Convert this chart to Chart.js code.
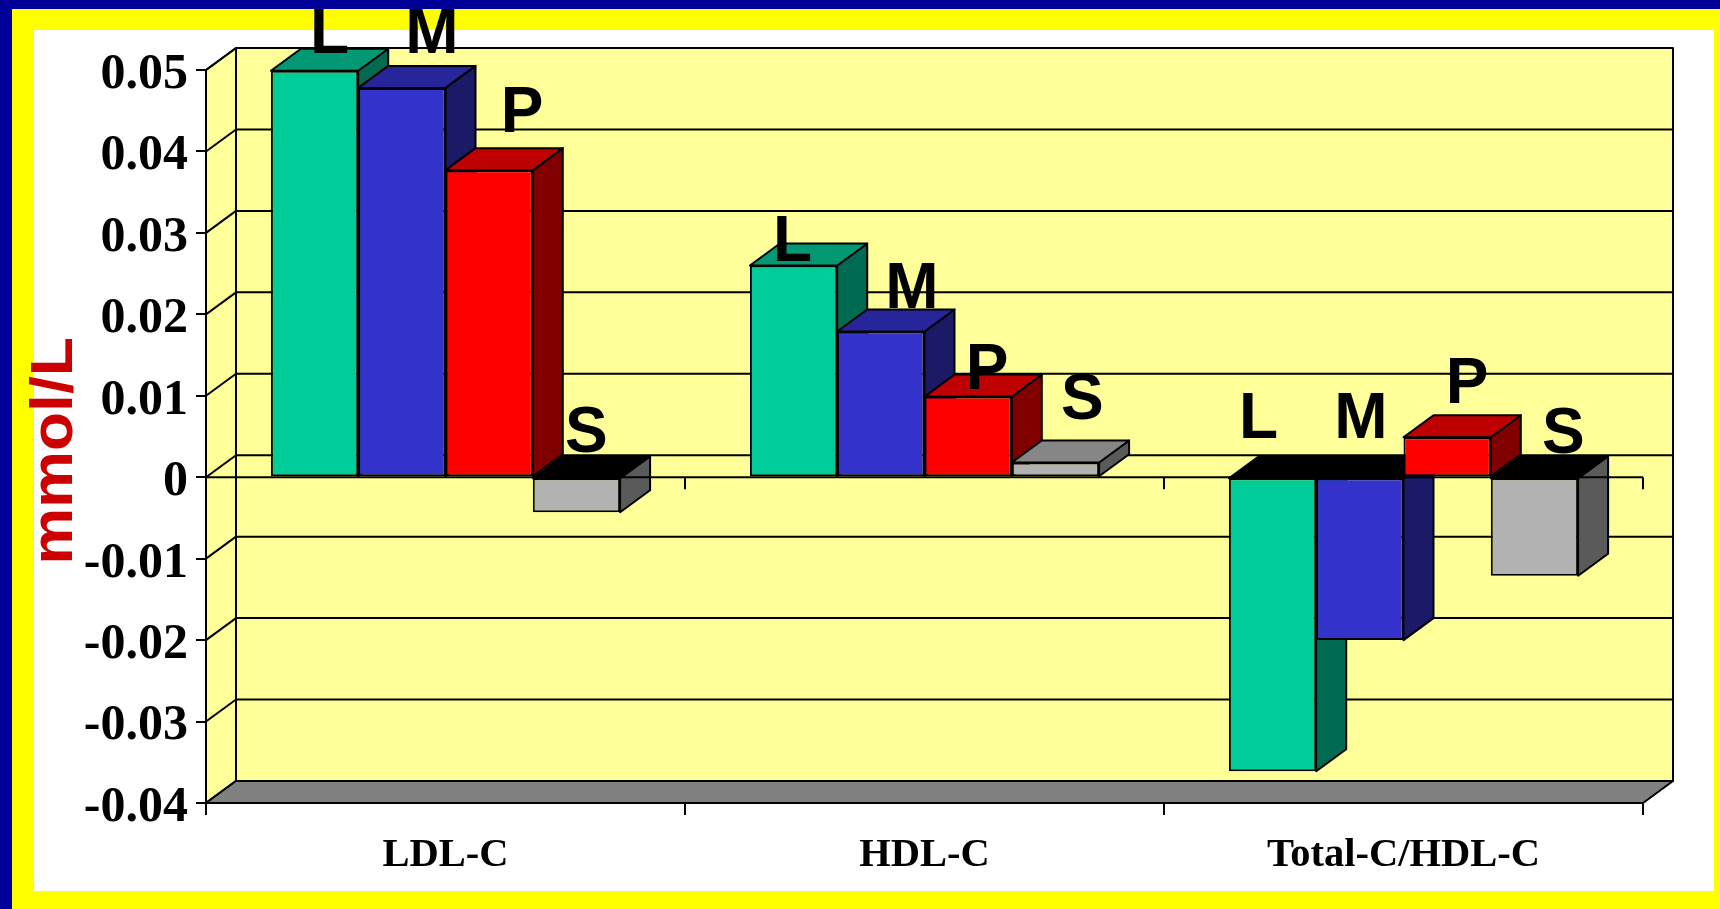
<!DOCTYPE html>
<html>
<head>
<meta charset="utf-8">
<title>mmol/L</title>
<script src="https://cdn.jsdelivr.net/npm/chart.js@4"></script>
<style>
    html, body { margin: 0; padding: 0; }
    body { width: 1720px; height: 909px; overflow: hidden; background: #FFFF00; position: relative; }
    /* рамка слайда: белое поле под графиком, синие полосы поверх него */
    #panel { position: absolute; left: 34px; top: 30px; right: 6px; bottom: 18px; background: #FFFFFF; }
    #chartBox { position: absolute; left: 0; top: 0; }
    #navyTop { position: absolute; left: 0; top: 0; width: 1720px; height: 9px; background: #000099; }
    #navyLeft { position: absolute; left: 0; top: 0; width: 12px; height: 909px; background: #000099; }
</style>
</head>
<body>
<div id="panel"></div>
<canvas id="chartBox" width="1720" height="909"></canvas>
<div id="navyTop"></div>
<div id="navyLeft"></div>

<script>
const categories = ['LDL-C', 'HDL-C', 'Total-C/HDL-C'];
const seriesNames = ['L', 'M', 'P', 'S'];

const valuesL = [0.0499, 0.0260, -0.0361];
const valuesM = [0.0478, 0.0179, -0.0200];
const valuesP = [0.0377, 0.0099, 0.0049];
const valuesS = [-0.0043, 0.0018, -0.0121];

const yTickLabels = ['-0.04', '-0.03', '-0.02', '-0.01', '0', '0.01', '0.02', '0.03', '0.04', '0.05'];

const frontColors = ['#00CC99', '#3333CC', '#FF0000', '#B2B2B2'];
const sideColors = ['#006B50', '#1A1A66', '#800000', '#5A5A5A'];
const topColors = ['#009973', '#26269A', '#BF0000', '#868686'];

// Сдвиг объёма назад
const DEPTH_X = 30;
const DEPTH_Y = -22;
const LINE_COLOR = '#000000';

// Подписи серий стоят вручную: смещение от центра столбика и его верхнего края
const labelShift = [
    [[15, -18], [30, -35], [33, -38], [10, -26]],
    [[-1, -4], [31, -23], [19, -8], [27, -44]],
    [[-14, -40], [1, -40], [20, -34], [29, -25]]
];

function polygon(ctx, points, fill) {
    ctx.beginPath();
    points.forEach(([x, y], i) => (i ? ctx.lineTo(x, y) : ctx.moveTo(x, y)));
    ctx.closePath();
    if (fill) {
        ctx.fillStyle = fill;
        ctx.fill();
    }
    ctx.stroke();
}

function line(ctx, x1, y1, x2, y2) {
    ctx.beginPath();
    ctx.moveTo(x1, y1);
    ctx.lineTo(x2, y2);
    ctx.stroke();
}

function drawWalls(chart) {
    const { ctx, chartArea: { left, right, top, bottom }, scales: { y } } = chart;

    polygon(ctx, [[left + DEPTH_X, top + DEPTH_Y], [right + DEPTH_X, top + DEPTH_Y],
        [right + DEPTH_X, bottom + DEPTH_Y], [left + DEPTH_X, bottom + DEPTH_Y]], '#FFFF99');
    polygon(ctx, [[left, top], [left + DEPTH_X, top + DEPTH_Y],
        [left + DEPTH_X, bottom + DEPTH_Y], [left, bottom]], '#FFFF99');

    y.ticks.forEach(tick => {
        const py = y.getPixelForValue(tick.value);
        line(ctx, left, py, left + DEPTH_X, py + DEPTH_Y);
        line(ctx, left + DEPTH_X, py + DEPTH_Y, right + DEPTH_X, py + DEPTH_Y);
    });

    polygon(ctx, [[left, bottom], [left + DEPTH_X, bottom + DEPTH_Y],
        [right + DEPTH_X, bottom + DEPTH_Y], [right, bottom]], '#808080');
}

// Боковая и верхняя грани столбика
function drawDepth(ctx, bar, series) {
    const { x, y, base, width } = bar.getProps(['x', 'y', 'base', 'width'], true);
    const l = x - width / 2;
    const r = x + width / 2;
    const upper = Math.min(y, base);
    const lower = Math.max(y, base);
    const isNegative = y > base;
    polygon(ctx, [[r, upper], [r + DEPTH_X, upper + DEPTH_Y],
        [r + DEPTH_X, lower + DEPTH_Y], [r, lower]], sideColors[series]);
    polygon(ctx, [[l, upper], [l + DEPTH_X, upper + DEPTH_Y],
        [r + DEPTH_X, upper + DEPTH_Y], [r, upper]], isNegative ? '#000000' : topColors[series]);
}

const scenePlugin = {
    id: 'scene',
    // Обычный обход рисует серии с конца, а объём требует порядка слева направо
    beforeDatasetDraw() {
        return false;
    },
    beforeDatasetsDraw(chart) {
        const { ctx } = chart;
        ctx.save();
        ctx.strokeStyle = LINE_COLOR;
        ctx.lineWidth = 2;
        ctx.lineJoin = 'round';
        drawWalls(chart);
        chart.getSortedVisibleDatasetMetas().forEach(meta => {
            meta.data.forEach(bar => {
                drawDepth(ctx, bar, meta.index);
                bar.draw(ctx, chart.chartArea);
            });
        });
        ctx.restore();
    },
    afterDatasetsDraw(chart) {
        const { ctx, chartArea: { left, right }, scales: { x, y } } = chart;
        const zero = y.getPixelForValue(0);
        ctx.save();
        ctx.strokeStyle = LINE_COLOR;
        ctx.lineWidth = 2;

        // Нулевая линия с засечками категорий
        line(ctx, left, zero, right, zero);
        categories.forEach((name, i) => {
            const px = x.getPixelForValue(i) + (right - left) / categories.length / 2;
            line(ctx, px, zero, px, zero + 12);
        });

        // Буквы серий над столбиками
        ctx.fillStyle = '#000000';
        ctx.font = 'bold 64px "Liberation Sans"';
        ctx.textAlign = 'center';
        ctx.textBaseline = 'alphabetic';
        chart.getSortedVisibleDatasetMetas().forEach(meta => {
            meta.data.forEach((bar, i) => {
                const { x: barX, y: barY, base } = bar.getProps(['x', 'y', 'base'], true);
                const [shiftX, shiftY] = labelShift[i][meta.index];
                ctx.fillText(seriesNames[meta.index], barX + shiftX, Math.min(barY, base) + shiftY);
            });
        });

        // Подпись оси Y, слегка сжатая по высоте букв
        ctx.translate(72, 451);
        ctx.rotate(-Math.PI / 2);
        ctx.scale(1, 0.92);
        ctx.fillStyle = '#CC0000';
        ctx.font = 'bold 64px "Liberation Sans"';
        ctx.fillText('mmol/L', 0, 0);
        ctx.restore();
    }
};

function makeDataset(name, values, index) {
    return {
        label: name,
        data: values,
        backgroundColor: frontColors[index],
        borderColor: LINE_COLOR,
        borderWidth: 2,
        borderSkipped: false,
        barPercentage: 1,
        categoryPercentage: 0.729
    };
}

new Chart(document.getElementById('chartBox').getContext('2d'), {
    type: 'bar',
    data: {
        labels: categories,
        datasets: [
            makeDataset('L', valuesL, 0),
            makeDataset('M', valuesM, 1),
            makeDataset('P', valuesP, 2),
            makeDataset('S', valuesS, 3)
        ]
    },
    options: {
        responsive: false,
        animation: false,
        layout: { padding: { left: 0, right: 77, top: 70, bottom: 0 } },
        plugins: {
            legend: { display: false },
            tooltip: { enabled: false }
        },
        scales: {
            x: {
                afterFit(scale) { scale.height = 106; },
                grid: {
                    offset: true,
                    drawOnChartArea: false,
                    color: LINE_COLOR,
                    lineWidth: 2,
                    tickLength: 12
                },
                border: { display: true, color: LINE_COLOR, width: 2 },
                ticks: {
                    color: '#000000',
                    padding: 16,
                    maxRotation: 0,
                    font: { family: '"Liberation Serif"', size: 40.5, weight: 'bold' }
                }
            },
            y: {
                min: -0.04,
                max: 0.05,
                afterFit(scale) { scale.width = 206; },
                grid: {
                    drawOnChartArea: false,
                    color: LINE_COLOR,
                    lineWidth: 2,
                    tickLength: 10
                },
                border: { display: true, color: LINE_COLOR, width: 2 },
                ticks: {
                    stepSize: 0.01,
                    color: '#000000',
                    padding: 8,
                    labelOffset: 5,
                    font: { family: '"Liberation Serif"', size: 50, weight: 'bold' },
                    callback: (value, index) => yTickLabels[index]
                }
            }
        }
    },
    plugins: [scenePlugin]
});
</script>
</body>
</html>
